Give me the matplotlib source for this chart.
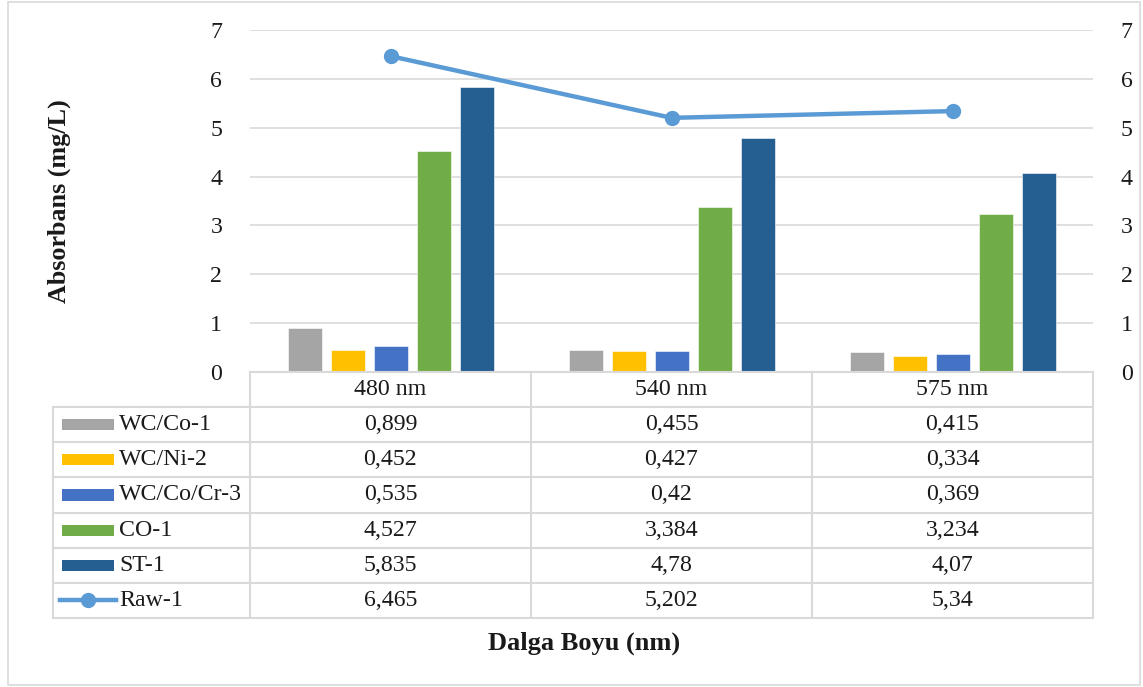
import matplotlib.pyplot as plt
from matplotlib.patches import Rectangle
from matplotlib.lines import Line2D

plt.rcParams['font.family'] = ['Liberation Serif', 'DejaVu Serif']

categories = ['480 nm', '540 nm', '575 nm']
bar_series = ['WC/Co-1', 'WC/Ni-2', 'WC/Co/Cr-3', 'CO-1', 'ST-1']
wc_co = [0.899, 0.455, 0.415]
wc_ni = [0.452, 0.427, 0.334]
wc_co_cr = [0.535, 0.42, 0.369]
co_1 = [4.527, 3.384, 3.234]
st_1 = [5.835, 4.78, 4.07]
raw_1 = [6.465, 5.202, 5.34]
bar_values = [wc_co, wc_ni, wc_co_cr, co_1, st_1]
bar_colors = ['#a5a5a5', '#ffc000', '#4472c4', '#70ad47', '#255e91']
line_color = '#5b9bd5'
grid_color = '#d9d9d9'
text_color = '#1a1a1a'
fs = 17.2

W, H = 1143, 687
fig = plt.figure(figsize=(W / 100, H / 100), dpi=100)

# pixel layout of plot area and data table
px_left, px_right = 250, 1093
px_top, px_zero = 30, 372
px_tab_left, px_tab_bottom = 53, 618
col_w = (px_right - px_left) / len(categories)

ax = fig.add_axes([px_left / W, (H - px_zero) / H,
                   (px_right - px_left) / W, (px_zero - px_top) / H])
ax.set_xlim(-0.5, len(categories) - 0.5)
ax.set_ylim(0, 7)
ax.set_yticks(range(8))
ax.yaxis.grid(True, color=grid_color, linewidth=1.2)
ax.set_axisbelow(True)
for s in ax.spines.values():
    s.set_visible(False)
ax.set_xticks([])
ax.tick_params(axis='y', length=0, pad=20, labelsize=fs, labelcolor=text_color)

bar_w = 34 / col_w
step = 43 / col_w
for i, (vals, c) in enumerate(zip(bar_values, bar_colors)):
    offs = (i - 2) * step
    ax.bar([k + offs for k in range(len(categories))], vals, bar_w,
           color=c, edgecolor='white', linewidth=0.4, zorder=2)

ax2 = ax.twinx()
ax2.set_ylim(0, 7)
ax2.set_yticks(range(8))
for s in ax2.spines.values():
    s.set_visible(False)
ax2.tick_params(axis='y', length=0, pad=20, labelsize=fs, labelcolor=text_color)
ax2.plot(range(len(categories)), raw_1, color=line_color, linewidth=3.2,
         marker='o', markersize=10, zorder=3)

ax.set_ylabel('Absorbans (mg/L)', fontsize=18.8, fontweight='bold', color=text_color)
ax.yaxis.set_label_coords(-0.212, 0.5)

# data table beneath the plot
tab = fig.add_axes([px_tab_left / W, (H - px_tab_bottom) / H,
                    (px_right - px_tab_left) / W, (px_tab_bottom - px_zero) / H])
x_min = -0.5 - (px_left - px_tab_left) / col_w
x_max = len(categories) - 0.5
n_rows = len(bar_series) + 2
tab.set_xlim(x_min, x_max)
tab.set_ylim(n_rows, 0)
tab.axis('off')

lw = 1.5
tab.plot([-0.5, x_max], [0, 0], color=grid_color, lw=lw, clip_on=False)
for r in range(1, n_rows + 1):
    tab.plot([x_min, x_max], [r, r], color=grid_color, lw=lw, clip_on=False)
tab.plot([x_min, x_min], [1, n_rows], color=grid_color, lw=lw, clip_on=False)
for k in range(len(categories) + 1):
    tab.plot([k - 0.5, k - 0.5], [0, n_rows], color=grid_color, lw=lw, clip_on=False)

for k, cat in enumerate(categories):
    tab.text(k, 0.5, cat, ha='center', va='center', fontsize=fs, color=text_color)

def px_to_x(px):
    return -0.5 + (px - px_left) / col_w

names = bar_series + ['Raw-1']
values = bar_values + [raw_1]
for r, (name, vals) in enumerate(zip(names, values), start=1):
    yc = r + 0.5
    if r <= len(bar_series):
        tab.add_patch(Rectangle((px_to_x(62), yc - 0.16), px_to_x(114) - px_to_x(62), 0.32,
                                color=bar_colors[r - 1], lw=0))
    else:
        tab.add_line(Line2D([px_to_x(60), px_to_x(116)], [yc, yc], color=line_color, lw=3.2))
        tab.plot([px_to_x(88)], [yc], 'o', color=line_color, markersize=10)
    tab.text(px_to_x(119), yc, name, ha='left', va='center', fontsize=fs, color=text_color)
    for k, v in enumerate(vals):
        tab.text(k, yc, f'{v:g}'.replace('.', ','), ha='center', va='center',
                 fontsize=fs, color=text_color)

fig.text(584 / W, 1 - 643 / H, 'Dalga Boyu (nm)', ha='center', va='center',
         fontsize=19, fontweight='bold', color=text_color)

# outer chart border
fig.patches.append(Rectangle((8 / W, 2 / H), 1132 / W, 683 / H, transform=fig.transFigure,
                             fill=False, edgecolor=grid_color, lw=1.2))

fig.savefig('out.png', dpi=100)
